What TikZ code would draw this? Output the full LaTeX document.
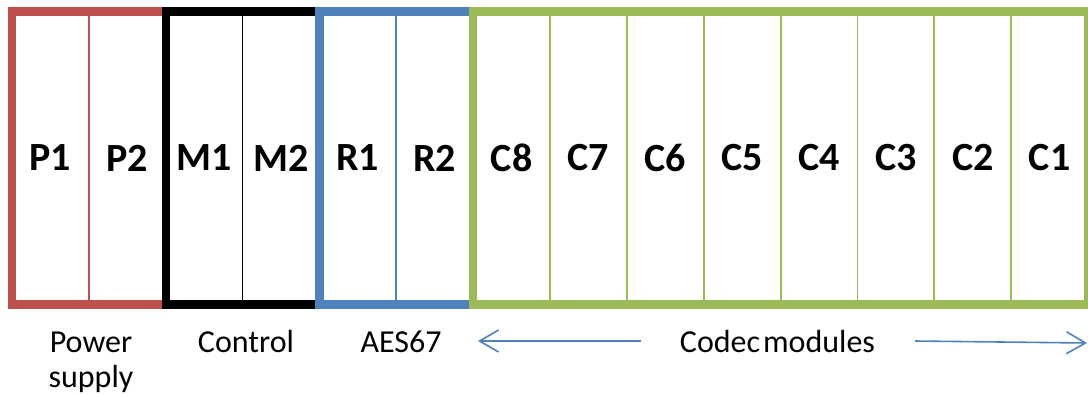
\documentclass[tikz,border=0pt]{standalone}
\usepackage{fontspec}
\setmainfont{Carlito}
\usetikzlibrary{arrows.meta}
\definecolor{pred}{HTML}{C0504D}
\definecolor{pblue}{HTML}{4F81BD}
\definecolor{pgreen}{HTML}{9BBB59}
\tikzset{
  slot/.style={draw=#1, line width=1.8pt, minimum width=76.86pt, minimum height=293pt,
    inner sep=0pt, outer sep=0pt, font=\fontsize{40}{48}\selectfont\bfseries},
  frame/.style={draw=#1, line width=8.4pt, line join=miter},
  caption/.style={inner sep=0pt, anchor=base, font=\fontsize{32}{38}\selectfont},
  arr/.style={draw=pblue, line width=1.6pt, -{Straight Barb[length=19pt,width=22pt,line width=1.6pt]}}
}
\begin{document}
\begin{tikzpicture}[x=1pt,y=-1pt]
\useasboundingbox (0,0) rectangle (1088,394);
\def\w{76.86}
\foreach \i/\t/\c in {1/P1/pred,2/P2/pred,3/M1/black,4/M2/black,5/R1/pblue,6/R2/pblue,
  7/C8/pgreen,8/C7/pgreen,9/C6/pgreen,10/C5/pgreen,11/C4/pgreen,12/C3/pgreen,13/C2/pgreen,14/C1/pgreen}{
  \node[slot=\c] (s\i) at ({12+\w*(\i-0.5)},158) {\t};
}
\draw[frame=pred] (s1.north west) rectangle (s2.south east);
\draw[frame=black] (s3.north west) rectangle (s4.south east);
\draw[frame=pblue] (s5.north west) rectangle (s6.south east);
\draw[frame=pgreen] (s7.north west) rectangle (s14.south east);
\node[caption] (pw) at (91,352) {Power};
\node[caption] (su) at (91,387) {supply};
\node[caption] (ct) at (246,352) {Control};
\node[caption] (ae) at (401,352) {AES67};
\node[caption] (cm) at (777.5,352) {Codec\hspace{3pt}modules};
\coordinate (la) at (478,341);
\coordinate (ra) at (1087,343);
\draw[arr] ([xshift=-39pt]cm.west) -- (la);
\draw[arr] ([xshift=40pt]cm.east) -- (ra);
\end{tikzpicture}
\end{document}
